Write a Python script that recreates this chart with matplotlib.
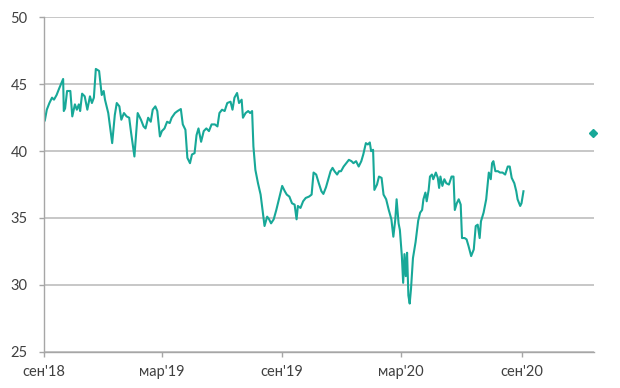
import matplotlib
matplotlib.use("Agg")
import matplotlib.pyplot as plt
import pandas as pd

dates = [
    "2018-09-03", "2018-09-06", "2018-09-10", "2018-09-14", "2018-09-17", "2018-09-21", "2018-09-25", "2018-10-01",
    "2018-10-02", "2018-10-04", "2018-10-07", "2018-10-12", "2018-10-15", "2018-10-19", "2018-10-22", "2018-10-25",
    "2018-10-27", "2018-10-30", "2018-11-03", "2018-11-07", "2018-11-11", "2018-11-14", "2018-11-17", "2018-11-20",
    "2018-11-25", "2018-11-29", "2018-12-02", "2018-12-04", "2018-12-09", "2018-12-15", "2018-12-19", "2018-12-22",
    "2018-12-26", "2018-12-29", "2019-01-02", "2019-01-06", "2019-01-10", "2019-01-13", "2019-01-18", "2019-01-23",
    "2019-01-28", "2019-02-01", "2019-02-04", "2019-02-08", "2019-02-12", "2019-02-15", "2019-02-19", "2019-02-22",
    "2019-02-26", "2019-03-01", "2019-03-05", "2019-03-09", "2019-03-13", "2019-03-16", "2019-03-21", "2019-03-25",
    "2019-03-30", "2019-04-02", "2019-04-06", "2019-04-09", "2019-04-13", "2019-04-16", "2019-04-20", "2019-04-23",
    "2019-04-26", "2019-04-30", "2019-05-04", "2019-05-08", "2019-05-12", "2019-05-16", "2019-05-21", "2019-05-25",
    "2019-05-28", "2019-06-01", "2019-06-05", "2019-06-09", "2019-06-14", "2019-06-17", "2019-06-20", "2019-06-24",
    "2019-06-27", "2019-07-01", "2019-07-03", "2019-07-07", "2019-07-11", "2019-07-14", "2019-07-17", "2019-07-19",
    "2019-07-22", "2019-07-26", "2019-07-30", "2019-08-02", "2019-08-05", "2019-08-09", "2019-08-12", "2019-08-15",
    "2019-08-19", "2019-08-23", "2019-08-27", "2019-09-01", "2019-09-05", "2019-09-08", "2019-09-12", "2019-09-16",
    "2019-09-20", "2019-09-23", "2019-09-25", "2019-09-29", "2019-10-03", "2019-10-07", "2019-10-12", "2019-10-16",
    "2019-10-19", "2019-10-23", "2019-10-27", "2019-10-31", "2019-11-03", "2019-11-07", "2019-11-11", "2019-11-14",
    "2019-11-17", "2019-11-20", "2019-11-24", "2019-11-27", "2019-11-30", "2019-12-04", "2019-12-08", "2019-12-12",
    "2019-12-16", "2019-12-19", "2019-12-23", "2019-12-27", "2019-12-31", "2020-01-03", "2020-01-07", "2020-01-10",
    "2020-01-13", "2020-01-15", "2020-01-18", "2020-01-20", "2020-01-24", "2020-01-27", "2020-01-31", "2020-02-03",
    "2020-02-07", "2020-02-11", "2020-02-15", "2020-02-18", "2020-02-21", "2020-02-23", "2020-02-26", "2020-02-28",
    "2020-03-02", "2020-03-04", "2020-03-06", "2020-03-08", "2020-03-10", "2020-03-12", "2020-03-14", "2020-03-16",
    "2020-03-19", "2020-03-23", "2020-03-27", "2020-03-30", "2020-04-02", "2020-04-04", "2020-04-07", "2020-04-09",
    "2020-04-12", "2020-04-14", "2020-04-17", "2020-04-19", "2020-04-23", "2020-04-26", "2020-04-28", "2020-04-30",
    "2020-05-03", "2020-05-06", "2020-05-09", "2020-05-13", "2020-05-17", "2020-05-20", "2020-05-22", "2020-05-25",
    "2020-05-28", "2020-05-31", "2020-06-02", "2020-06-06", "2020-06-09", "2020-06-12", "2020-06-16", "2020-06-20",
    "2020-06-23", "2020-06-26", "2020-06-29", "2020-07-01", "2020-07-05", "2020-07-09", "2020-07-13", "2020-07-16",
    "2020-07-18", "2020-07-20", "2020-07-23", "2020-07-27", "2020-07-30", "2020-08-03", "2020-08-07", "2020-08-11",
    "2020-08-14", "2020-08-17", "2020-08-21", "2020-08-24", "2020-08-26", "2020-08-30", "2020-09-01", "2020-09-04",
]
values = [
    42.3, 43.1, 43.6, 44.0, 43.85, 44.2, 44.7, 45.4,
    43.0, 43.2, 44.5, 44.5, 42.6, 43.5, 43.1, 43.5,
    43.0, 44.3, 44.1, 43.1, 44.1, 43.6, 44.0, 46.15,
    46.0, 44.2, 44.5, 43.85, 42.85, 40.6, 42.7, 43.6,
    43.35, 42.35, 42.85, 42.6, 42.5, 41.35, 39.6, 42.85,
    42.35, 41.85, 41.7, 42.5, 42.2, 43.1, 43.35, 43.0,
    41.1, 41.5, 41.7, 42.2, 42.1, 42.5, 42.85, 43.0,
    43.15, 42.0, 41.6, 39.5, 39.1, 39.75, 39.85, 41.2,
    41.7, 40.7, 41.5, 41.7, 41.5, 42.0, 42.0, 41.85,
    42.85, 43.1, 43.0, 43.6, 43.7, 43.1, 44.0, 44.35,
    43.6, 43.85, 42.5, 42.85, 43.0, 42.85, 43.0, 40.35,
    38.6, 37.6, 36.75, 35.6, 34.4, 35.1, 34.9, 34.6,
    34.9, 35.6, 36.4, 37.4, 37.0, 36.75, 36.6, 36.1,
    36.0, 34.9, 35.9, 35.75, 36.25, 36.5, 36.6, 36.75,
    38.4, 38.25, 37.6, 37.0, 36.8, 37.3, 38.0, 38.5,
    38.75, 38.5, 38.25, 38.5, 38.5, 38.85, 39.1, 39.35,
    39.25, 39.1, 39.25, 38.85, 39.25, 39.75, 40.6, 40.5,
    40.65, 40.0, 40.1, 37.1, 37.5, 38.1, 38.0, 36.75,
    36.4, 35.6, 34.9, 33.6, 34.9, 36.4, 34.6, 34.1,
    32.15, 30.15, 32.3, 30.65, 32.4, 29.2, 28.6, 29.7,
    32.0, 33.2, 34.8, 35.4, 35.6, 36.4, 36.9, 36.25,
    37.1, 38.1, 38.25, 37.9, 38.4, 38.0, 37.25, 38.1,
    37.4, 37.9, 37.6, 37.5, 38.1, 38.1, 35.6, 36.1,
    36.4, 36.0, 33.5, 33.5, 33.4, 32.9, 32.15, 32.65,
    34.4, 34.5, 33.5, 34.75, 35.4, 36.4, 38.4, 37.9,
    39.1, 39.25, 38.5, 38.5, 38.4, 38.4, 38.25, 38.85,
    38.85, 38.0, 37.6, 37.0, 36.4, 35.9, 36.1, 37.0,
]
forecast_date = ["2020-12-20"]
forecast_value = [41.35]

tick_dates = ["2018-09-01", "2019-03-01", "2019-09-01", "2020-03-01", "2020-09-01"]
tick_labels = ["сен'18", "мар'19", "сен'19", "мар'20", "сен'20"]
y_ticks = [25, 30, 35, 40, 45, 50]

line_color = "#17a898"
grid_color = "#c3c3c3"
text_color = "#404040"

plt.rcParams["font.family"] = ["Lato", "DejaVu Sans"]

fig = plt.figure(figsize=(6.2, 3.88), dpi=100)
ax = fig.add_axes([0.0702, 0.0936, 0.888, 0.8614])

x = pd.to_datetime(dates)
ax.plot(x, values, color=line_color, linewidth=1.5, solid_joinstyle="round")
ax.plot(pd.to_datetime(forecast_date), forecast_value, linestyle="none",
        marker="D", markersize=4, color=line_color, clip_on=False)

ax.set_xlim(pd.Timestamp("2018-09-01"), pd.Timestamp("2020-12-21"))
ax.set_ylim(25, 50)
ax.set_yticks(y_ticks)
ax.set_xticks(pd.to_datetime(tick_dates))
ax.set_xticklabels(tick_labels)

ax.grid(axis="y", color=grid_color, linewidth=1.3)
ax.set_axisbelow(True)
for s in ["top", "right"]:
    ax.spines[s].set_visible(False)
for s in ["left", "bottom"]:
    ax.spines[s].set_color("#a6a6a6")
    ax.spines[s].set_linewidth(1.0)

ax.tick_params(axis="both", colors="#a6a6a6", length=3.5, width=1.0,
               labelcolor=text_color, labelsize=10.5)
ax.tick_params(axis="x", pad=6)
ax.tick_params(axis="y", pad=8)

fig.savefig("out.png", dpi=100)
